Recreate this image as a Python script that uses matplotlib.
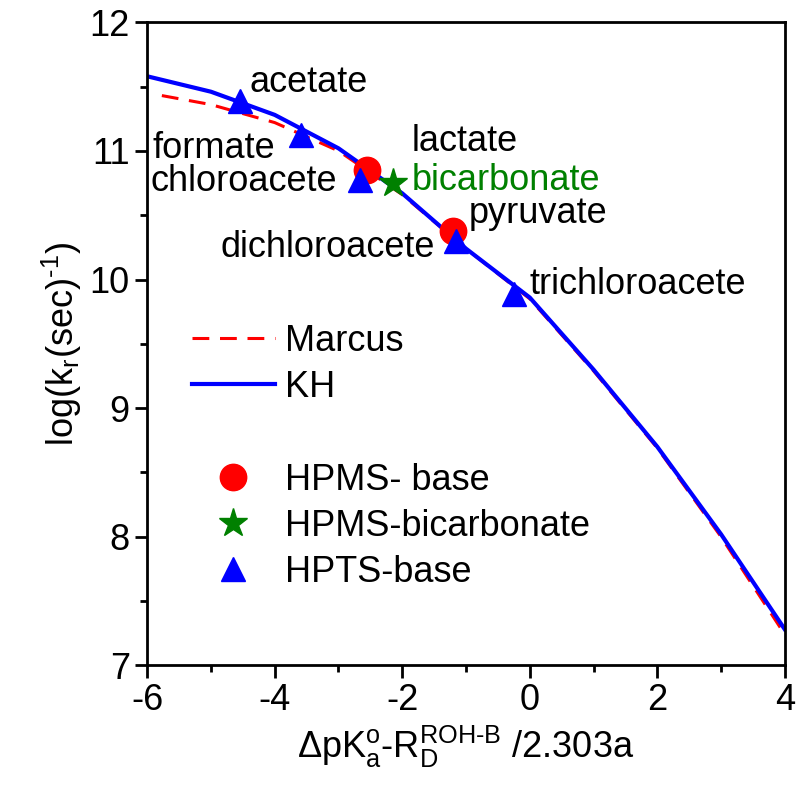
import numpy as np
import matplotlib.pyplot as plt

plt.rcParams['font.family'] = ['Liberation Sans', 'DejaVu Sans']
plt.rcParams['mathtext.fontset'] = 'custom'
plt.rcParams['mathtext.rm'] = 'Liberation Sans'
plt.rcParams['mathtext.it'] = 'Liberation Sans'
plt.rcParams['axes.unicode_minus'] = False

# curves
kh_x = [-6, -5, -4, -3, -2, -1, 0, 1, 2, 3, 4]
kh_y = [11.58, 11.46, 11.28, 11.02, 10.67, 10.24, 9.86, 9.30, 8.70, 8.02, 7.28]
marcus_x = [-5.77, -5, -4, -3, -2, -1, 0, 1, 2, 3, 4]
marcus_y = [11.43, 11.36, 11.22, 11.00, 10.66, 10.24, 9.85, 9.29, 8.69, 8.00, 7.24]

# experimental points
hpms_x = [-2.56, -1.20]
hpms_y = [10.85, 10.38]
bicarb_x = [-2.14]
bicarb_y = [10.75]
hpts_x = [-4.54, -3.58, -2.66, -1.15, -0.24]
hpts_y = [11.39, 11.12, 10.77, 10.30, 9.89]

fig = plt.figure(figsize=(8, 7.95), dpi=100)
ax = fig.add_axes([0.184, 0.163, 0.797, 0.809])

l1, = ax.plot(marcus_x, marcus_y, color='red', lw=2.2, dashes=(5.5, 3.5), label='Marcus')
l2, = ax.plot(kh_x, kh_y, '-', color='blue', lw=3, label='KH')
m1, = ax.plot(hpms_x, hpms_y, 'o', color='red', ms=19, ls='none', label='HPMS- base')
m2, = ax.plot(bicarb_x, bicarb_y, '*', color='green', ms=21, ls='none', label='HPMS-bicarbonate')
m3, = ax.plot(hpts_x, hpts_y, '^', color='blue', ms=17, ls='none', label='HPTS-base')

fs = 26
ax.text(-4.4, 11.53, 'acetate', fontsize=fs, va='center')
ax.text(-5.92, 11.02, 'formate', fontsize=fs, va='center')
ax.text(-5.95, 10.76, 'chloroacete', fontsize=fs, va='center')
ax.text(-1.85, 11.07, 'lactate', fontsize=fs, va='center')
ax.text(-1.85, 10.77, 'bicarbonate', fontsize=fs, va='center', color='green')
ax.text(-0.95, 10.51, 'pyruvate', fontsize=fs, va='center')
ax.text(-4.85, 10.25, 'dichloroacete', fontsize=fs, va='center')
ax.text(0.0, 9.96, 'trichloroacete', fontsize=fs, va='center')

leg1 = ax.legend(handles=[l1, l2], loc='upper left', bbox_to_anchor=(0.03, 0.57),
                 frameon=False, fontsize=fs, handlelength=2.3, handletextpad=0.3,
                 labelspacing=0.3, borderaxespad=0.3)
ax.add_artist(leg1)
ax.legend(handles=[m1, m2, m3], loc='upper left', bbox_to_anchor=(0.03, 0.354),
          frameon=False, fontsize=fs, handlelength=2.3, handletextpad=0.3,
          labelspacing=0.3, borderaxespad=0.3)

ax.set_xlim(-6, 4)
ax.set_ylim(7, 12)
ax.set_xticks([-6, -4, -2, 0, 2, 4])
ax.set_xticks([-5, -3, -1, 1, 3], minor=True)
ax.set_yticks([7, 8, 9, 10, 11, 12])
ax.set_yticks([7.5, 8.5, 9.5, 10.5, 11.5], minor=True)
ax.tick_params(which='both', direction='out', width=2, labelsize=fs, top=False, right=False)
ax.tick_params(which='major', length=9)
ax.tick_params(which='minor', length=5)
for s in ax.spines.values():
    s.set_linewidth(2)

ax.set_xlabel(r'$\Delta$pK$^{\rm o}_{\rm a}$-R$_{\rm D}^{\rm ROH\text{-}B}$ /2.303a', fontsize=fs)
ax.set_ylabel(r'log(k$_{\rm r}$(sec)$^{\text{-}1}$)', fontsize=fs)

fig.savefig('out.png', dpi=100)
